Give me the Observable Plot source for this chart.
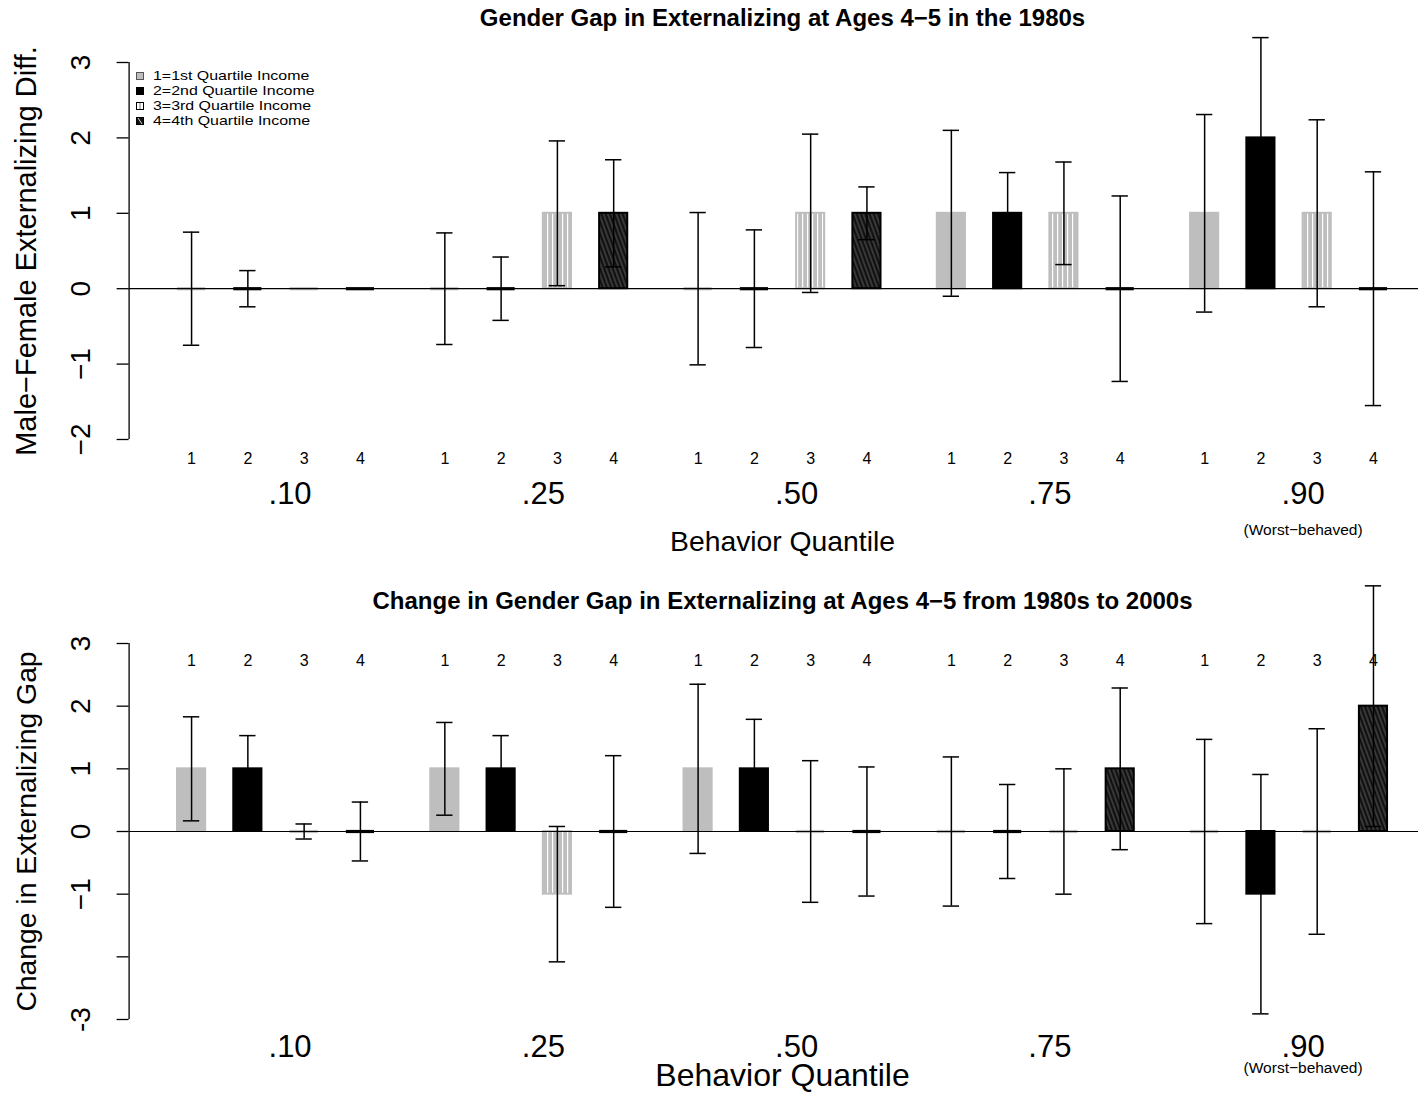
<!DOCTYPE html>
<html><head><meta charset="utf-8">
<script src="https://cdn.jsdelivr.net/npm/d3@7"></script>
<script src="https://cdn.jsdelivr.net/npm/@observablehq/plot@0.6"></script>
<style>
body{margin:0;background:#fff;}
#wrap{position:relative;width:1418px;height:1093px;font-family:"Liberation Sans",Arial,sans-serif;overflow:hidden;}
#wrap > svg{display:block;}
.legend{position:absolute;left:136px;top:68px;font-size:13.5px;color:#000;}
.legend .row{display:flex;align-items:center;height:15px;white-space:nowrap;}
.legend .row svg{margin-right:9px;flex:none;}
.legend .row span{display:inline-block;transform:scaleX(1.18);transform-origin:0 50%;}
</style></head><body>
<svg width="0" height="0" style="position:absolute">
  <defs>
    <pattern id="stripeV" patternUnits="userSpaceOnUse" width="5" height="10">
      <rect width="5" height="10" fill="#bebebe"></rect>
      <rect x="2" width="1.2" height="10" fill="#ffffff"></rect>
    </pattern>
    <pattern id="hatchD" patternUnits="userSpaceOnUse" width="4" height="10" patternTransform="rotate(-20)">
      <rect width="4" height="10" fill="#111"></rect>
      <rect x="1.5" width="0.9" height="10" fill="#666"></rect>
    </pattern>
  </defs>
</svg>
<div id="wrap"></div>
<script>
// ---- data ----
const groups = [".10", ".25", ".50", ".75", ".90"];
const incomes = [1, 2, 3, 4];
const incomeLabels = ["1=1st Quartile Income", "2=2nd Quartile Income", "3=3rd Quartile Income", "4=4th Quartile Income"];
// Top panel: male-female gap in 1980s (values and half-width of error bar)
const gap1980 = [0, 0, 0, 0,   0, 0, 1, 1,   0, 0, 1, 1,   1, 1, 1, 0,   1, 2, 1, 0];
const gap1980Err = [0.75, 0.24, null, null,   0.74, 0.42, 0.96, 0.71,   1.01, 0.78, 1.05, 0.35,   1.10, 0.54, 0.68, 1.23,   1.31, 1.33, 1.24, 1.55];
// Bottom panel: change in gap from 1980s to 2000s
const gapChange = [1, 1, 0, 0,   1, 1, -1, 0,   1, 1, 0, 0,   0, 0, 0, 1,   0, -1, 0, 2];
const gapChangeErr = [0.83, 0.53, 0.12, 0.47,   0.74, 0.53, 1.08, 1.21,   1.35, 0.79, 1.13, 1.03,   1.19, 0.75, 1.00, 1.29,   1.47, 1.91, 1.64, 1.92];
const yTicksTop = [-2, -1, 0, 1, 2, 3];
const yTickLabelsTop = ["\u22122", "\u22121", "0", "1", "2", "3"];
const yTicksBottom = [-3, -2, -1, 0, 1, 2, 3];
const yTickLabelsBottom = ["-3", "", "\u22121", "0", "1", "2", "3"];

const fills = {1: "#bebebe", 2: "#000000", 3: "url(#stripeV)", 4: "url(#hatchD)"};
const strokes = {1: "#bebebe", 2: "#000000", 3: "#bebebe", 4: "#000000"};

// barplot layout: width 1, space 1 between bars, 2 between groups
function rows(values, errs) {
  return values.map((v, i) => {
    const g = Math.floor(i / 4), k = i % 4;
    const e = errs[i];
    return {group: groups[g], inc: incomes[k], pos: 9 * g + 2.5 + 2 * k, value: v,
            lo: e == null ? null : v - e, hi: e == null ? null : v + e};
  });
}
const xDomain = [0.28, 46.1];
const xMid = 23.5;
const groupPos = groups.map((g, i) => 9 * i + 6);

function panel(o) {
  const data = o.data;
  const err = data.filter(d => d.hi != null);
  const zeros = data.filter(d => d.value === 0);
  const T = {lineAnchor: "middle", textAnchor: "middle"};
  return Plot.plot({
    width: 1418, height: o.height,
    marginLeft: 128.6, marginRight: 0, marginTop: o.marginTop, marginBottom: o.marginBottom,
    x: {domain: xDomain, axis: null},
    y: {domain: o.yDomain, axis: null},
    color: {type: "identity"},
    style: {fontFamily: "'Liberation Sans', Arial, sans-serif", background: "white", color: "black", overflow: "visible"},
    marks: [
      Plot.rectY(data, {x1: d => d.pos - 0.5, x2: d => d.pos + 0.5, y1: 0, y2: "value",
        fill: d => fills[d.inc], stroke: d => strokes[d.inc], strokeWidth: 2}),
      Plot.ruleY(zeros, {y: 0, x1: d => d.pos - 0.5, x2: d => d.pos + 0.5, stroke: d => strokes[d.inc], strokeWidth: 3.2}),
      Plot.ruleY([0], {stroke: "#000", strokeWidth: 1.2}),
      Plot.ruleX(err, {x: "pos", y1: "lo", y2: "hi", stroke: "#000", strokeWidth: 1.5}),
      Plot.ruleY(err, {y: "hi", x1: d => d.pos - 0.29, x2: d => d.pos + 0.29, stroke: "#000", strokeWidth: 1.5}),
      Plot.ruleY(err, {y: "lo", x1: d => d.pos - 0.29, x2: d => d.pos + 0.29, stroke: "#000", strokeWidth: 1.5}),
      // y axis
      Plot.ruleX([xDomain[0]], {y1: o.yDomain[0], y2: o.yDomain[1], stroke: "#000", strokeWidth: 1.3}),
      Plot.axisY({ticks: o.ticks, tickSize: 12, tickFormat: () => "", label: null, strokeWidth: 1.3}),
      Plot.text(o.ticks, {y: d => d, x: xDomain[0], text: (d, i) => o.tickLabels[i], rotate: -90, dx: -48,
        fontSize: 28, ...T}),
      Plot.text([o.ylabel], {text: d => d, frameAnchor: "left", rotate: -90, dx: -102, fontSize: o.ylabelSize, ...T}),
      // title
      Plot.text([o.title], {text: d => d, x: xMid, frameAnchor: "top", dy: o.titleDy, fontSize: 24, fontWeight: "bold", ...T}),
      // income numbers
      Plot.text(data, {x: "pos", text: d => String(d.inc), frameAnchor: o.numAnchor, dy: o.numDy, fontSize: 16, ...T}),
      // group labels
      Plot.text(groups, {x: (d, i) => groupPos[i], text: d => d, frameAnchor: "bottom", dy: o.groupDy, fontSize: 31, ...T}),
      Plot.text(["(Worst\u2212behaved)"], {x: groupPos[4], text: d => d, frameAnchor: "bottom", dy: o.worstDy, fontSize: 15.5, ...T}),
      Plot.text(["Behavior Quantile"], {x: xMid, text: d => d, frameAnchor: "bottom", dy: o.xlabelDy, fontSize: o.xlabelSize, ...T})
    ]
  });
}

const wrap = document.getElementById("wrap");
wrap.appendChild(panel({
  data: rows(gap1980, gap1980Err), height: 570, marginTop: 62, marginBottom: 131, yDomain: [-2, 3],
  ticks: yTicksTop, tickLabels: yTickLabelsTop,
  ylabel: "Male\u2212Female Externalizing Diff.", ylabelSize: 29,
  title: "Gender Gap in Externalizing at Ages 4\u22125 in the 1980s", titleDy: -44,
  numAnchor: "bottom", numDy: 19, groupDy: 55, worstDy: 91, xlabelDy: 102, xlabelSize: 28.3
}));
wrap.appendChild(panel({
  data: rows(gapChange, gapChangeErr), height: 523, marginTop: 73, marginBottom: 74, yDomain: [-3, 3],
  ticks: yTicksBottom, tickLabels: yTickLabelsBottom,
  ylabel: "Change in Externalizing Gap", ylabelSize: 28.3,
  title: "Change in Gender Gap in Externalizing at Ages 4\u22125 from 1980s to 2000s", titleDy: -42,
  numAnchor: "top", numDy: 17, groupDy: 28, worstDy: 49, xlabelDy: 56, xlabelSize: 32
}));

// legend (inside top panel)
const swatch = [
  '<rect x="0.5" y="0.5" width="7" height="7" fill="#bebebe" stroke="#555" stroke-width="1"/>',
  '<rect x="0.5" y="0.5" width="7" height="7" fill="#000" stroke="#000" stroke-width="1"/>',
  '<rect x="0.5" y="0.5" width="7" height="7" fill="#fff" stroke="#000" stroke-width="1"/><rect x="3" y="1" width="2" height="6" fill="#bbb"/>',
  '<rect x="0.5" y="0.5" width="7" height="7" fill="#111" stroke="#000" stroke-width="1"/><line x1="2" y1="1" x2="6" y2="7" stroke="#ddd" stroke-width="1"/>'
];
const legend = document.createElement("div");
legend.className = "legend";
legend.innerHTML = incomeLabels.map((t, i) =>
  `<div class="row"><svg width="8" height="8">${swatch[i]}</svg><span>${t}</span></div>`).join("");
wrap.appendChild(legend);
</script>
</body></html>
